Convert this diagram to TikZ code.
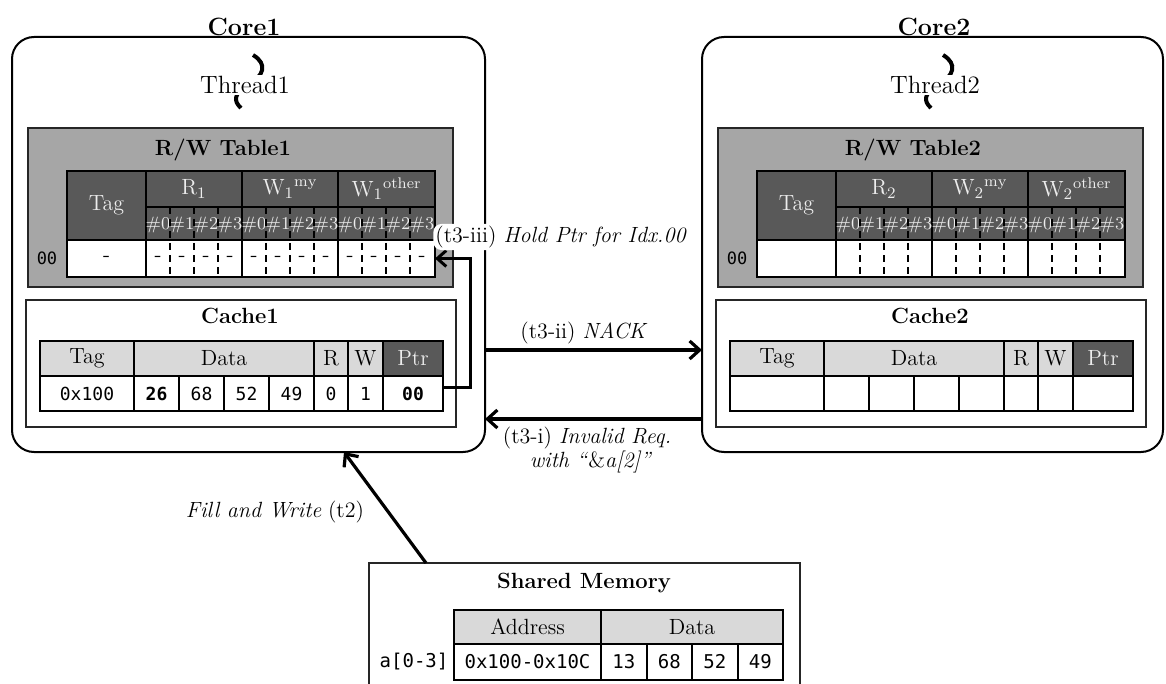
\documentclass[tikz,border=0pt]{standalone}
\usepackage{fontspec}
\newfontfamily\monof{DejaVu Sans Mono}
\usetikzlibrary{fit,arrows.meta}

\definecolor{panelgray}{HTML}{A6A6A6}
\definecolor{headdark}{HTML}{595959}
\definecolor{headlight}{HTML}{D9D9D9}
\definecolor{headtext}{HTML}{EDEDED}

\newcommand\fsz[1]{\fontsize{#1}{#1}\selectfont}

\tikzset{
  cellbase/.style={draw=black, line width=1pt, inner sep=0pt, outer sep=0pt},
  celltxt/.style={inner sep=0pt, outer sep=0pt},
  hdark/.style={fill=headdark, text=headtext, font=\fsz{11}},
  hlight/.style={fill=headlight, font=\fsz{11}},
  hwhite/.style={fill=white, font=\fsz{10.5}},
  subtxt/.style={inner sep=0pt, text=headtext, font=\fsz{9}},
  datatxt/.style={inner sep=0pt, font=\fsz{10.5}},
  dsep/.style={line width=1pt, dash pattern=on 3.5pt off 2.5pt},
  coreframe/.style={draw=black, line width=1pt, rounded corners=11pt, inner sep=0pt, outer sep=0pt},
  coretitle/.style={font=\fsz{12.5}\bfseries, inner sep=0pt, anchor=base},
  threadline/.style={line width=2pt},
  threadlbl/.style={fill=white, inner sep=0.5pt, font=\fsz{12.5}},
  panel/.style={draw=black!85, fill=panelgray, line width=1pt, inner sep=0pt, outer sep=0pt},
  panelbox/.style={draw=black!85, fill=white, line width=1pt, inner sep=0pt, outer sep=0pt},
  boxtitle/.style={font=\fsz{11}\bfseries, inner sep=0pt},
  monolbl/.style={font=\monof\fsz{8.5}, inner sep=0pt},
  monoval/.style={font=\monof\fsz{9}, inner sep=0pt},
  monobig/.style={font=\monof\fsz{9.5}, inner sep=0pt},
  lbl/.style={font=\fsz{11}, inner sep=1pt},
  flow/.style={line width=1.6pt, -{Straight Barb[length=5pt,width=9pt]}},
  ptrline/.style={line width=1.5pt, -{Straight Barb[length=4.5pt,width=8pt]}},
}

% a rectangular table cell spanning two corners, with its text centred
\newcommand\tcell[7]{%
  \node[cellbase,#6,fit={(#2,#3) (#4,#5)}] (#1) {};
  \node[celltxt,#6,draw=none,fill=none] (#1t) at (#1.center) {#7};}

% thread, R/W table and cache of one core
% #1 name prefix, #2 horizontal offset, #3 core number, #4 R/W table entry
\newcommand\corebody[4]{%
  \draw[threadline] ({#2+253},55) .. controls ({#2+268},64) and ({#2+264},76) .. ({#2+248},85)
                                  .. controls ({#2+234},93) and ({#2+233},101) .. ({#2+241},108);
  \node[threadlbl] (#1thr) at ({#2+245},85) {Thread#3};
  % R/W table
  \node[panel, fit={({#2+28},128) ({#2+453},287)}] (#1rw) {};
  \node[boxtitle] (#1rwt) at ({#2+223},150) {R/W Table#3};
  \tcell{#1tag}{#2+67}{171}{#2+146}{240}{hdark}{Tag}
  \tcell{#1hr}{#2+146}{171}{#2+242}{207}{hdark}{$\mathrm{R}_{#3}$}
  \tcell{#1hm}{#2+242}{171}{#2+338}{207}{hdark}{$\mathrm{W}_{#3}{}^{\mathrm{my}}$}
  \tcell{#1ho}{#2+338}{171}{#2+435}{207}{hdark}{$\mathrm{W}_{#3}{}^{\mathrm{other}}$}
  \tcell{#1sr}{#2+146}{207}{#2+242}{240}{hdark}{}
  \tcell{#1sm}{#2+242}{207}{#2+338}{240}{hdark}{}
  \tcell{#1so}{#2+338}{207}{#2+435}{240}{hdark}{}
  \tcell{#1dt}{#2+67}{240}{#2+146}{277}{hwhite}{#4}
  \tcell{#1dr}{#2+146}{240}{#2+242}{277}{hwhite}{}
  \tcell{#1dm}{#2+242}{240}{#2+338}{277}{hwhite}{}
  \tcell{#1do}{#2+338}{240}{#2+435}{277}{hwhite}{}
  \foreach \g/\s in {r/146, m/242, o/338} {
    \foreach \k in {0,1,2,3} {
      \node[subtxt] (#1s\g\k) at ({#2+\s+24*\k+12},225) {\#\k};
      \node[datatxt] (#1d\g\k) at ({#2+\s+24*\k+12},258.5) {#4};
    }
    \foreach \k in {1,2,3}
      \draw[dsep] (#1s\g.north west) ++(24*\k,0) -- ++(0,70);
  }
  \node[monolbl] (#1row) at ({#2+47},258) {00};
  % cache
  \node[panelbox, fit={({#2+26},300) ({#2+456},427)}] (#1cache) {};
  \node[boxtitle] (#1ct) at ({#2+240},316) {Cache#3};
  \tcell{#1ctag}{#2+40}{341}{#2+134}{376}{hlight}{Tag}
  \tcell{#1cdat}{#2+134}{341}{#2+314}{376}{hlight}{Data}
  \tcell{#1cr}{#2+314}{341}{#2+348}{376}{hlight}{R}
  \tcell{#1cw}{#2+348}{341}{#2+383}{376}{hlight}{W}
  \tcell{#1cp}{#2+383}{341}{#2+443}{376}{hdark}{Ptr}
  \tcell{#1vt}{#2+40}{376}{#2+134}{411}{hwhite}{}
  \foreach \k in {0,1,2,3} {
    \tcell{#1vd\k}{#2+134+45*\k}{376}{#2+179+45*\k}{411}{hwhite}{}
  }
  \tcell{#1vr}{#2+314}{376}{#2+348}{411}{hwhite}{}
  \tcell{#1vw}{#2+348}{376}{#2+383}{411}{hwhite}{}
  \tcell{#1vp}{#2+383}{376}{#2+443}{411}{hwhite}{}
}

\begin{document}
\begin{tikzpicture}[x=0.5pt,y=-0.5pt]
\useasboundingbox (0,0) rectangle (1166,684);
\clip (0,0) rectangle (1166,684);

% the two cores
\node[coreframe, fit={(12,37) (485,452)}] (core1) {};
\node[coreframe, fit={(702,37) (1163,452)}] (core2) {};
\node[coretitle] (core1t) at (244,36) {Core1};
\node[coretitle] (core2t) at (934,36) {Core2};

\corebody{a}{0}{1}{-}
\corebody{b}{690}{2}{}

% contents of the line held in Cache1
\node[monoval] (avtx) at (avt) {0x100};
\node[monoval] (avdx0) at (avd0) {\textbf{26}};
\node[monoval] (avdx1) at (avd1) {68};
\node[monoval] (avdx2) at (avd2) {52};
\node[monoval] (avdx3) at (avd3) {49};
\node[monoval] (avrx) at (avr) {0};
\node[monoval] (avwx) at (avw) {1};
\node[monoval] (avpx) at (avp) {\textbf{00}};

% pointer from the cache line back to the R/W table entry
\draw[ptrline] ([yshift=3pt]avp.east) -- ++(27,0) |- (ado.east);
\node[lbl, anchor=west, fill=white, rounded corners=4pt] (lhold) at (433,237)
  {(t3-iii) \textit{Hold Ptr for Idx.00}};

% messages between the cores
\coordinate (ynack) at (0,350);
\coordinate (yinv) at (0,419);
\draw[flow] (core1.east |- ynack) -- (core2.west |- ynack);
\draw[flow] (core2.west |- yinv) -- (core1.east |- yinv);
\node[lbl] (lnack) at (584,333) {(t3-ii) \textit{NACK}};
\node[lbl] (linv1) at (587,438) {(t3-i) \textit{Invalid Req.}};
\node[lbl] (linv2) at (591,462) {\textit{with “\textup{\&}a[2]”}};

% shared memory
\node[panelbox, fit={(369,563) (800,700)}] (shm) {};
\node[boxtitle] (shmt) at (584,583) {Shared Memory};
\tcell{mha}{454}{610}{601}{644}{hlight}{Address}
\tcell{mhd}{601}{610}{783}{644}{hlight}{Data}
\tcell{mva}{454}{644}{601}{680}{hwhite}{}
\node[monobig] (mvax) at (mva) {0x100-0x10C};
\foreach \k/\v in {0/13,1/68,2/52,3/49} {
  \tcell{mvd\k}{601+45.5*\k}{644}{646.5+45.5*\k}{680}{hwhite}{}
  \node[monobig] (mvdx\k) at (mvd\k) {\v};
}
\node[monobig] (marr) at (414,662) {a[0-3]};

% fill of Core1 from shared memory
\coordinate (fillfoot) at (426,0);
\coordinate (fillhead) at (344,0);
\draw[flow] (shm.north -| fillfoot) -- (core1.south -| fillhead);
\node[lbl] (lfill) at (275,512) {\textit{Fill and Write}\hspace{0.3em}(t2)};
\end{tikzpicture}
\end{document}
